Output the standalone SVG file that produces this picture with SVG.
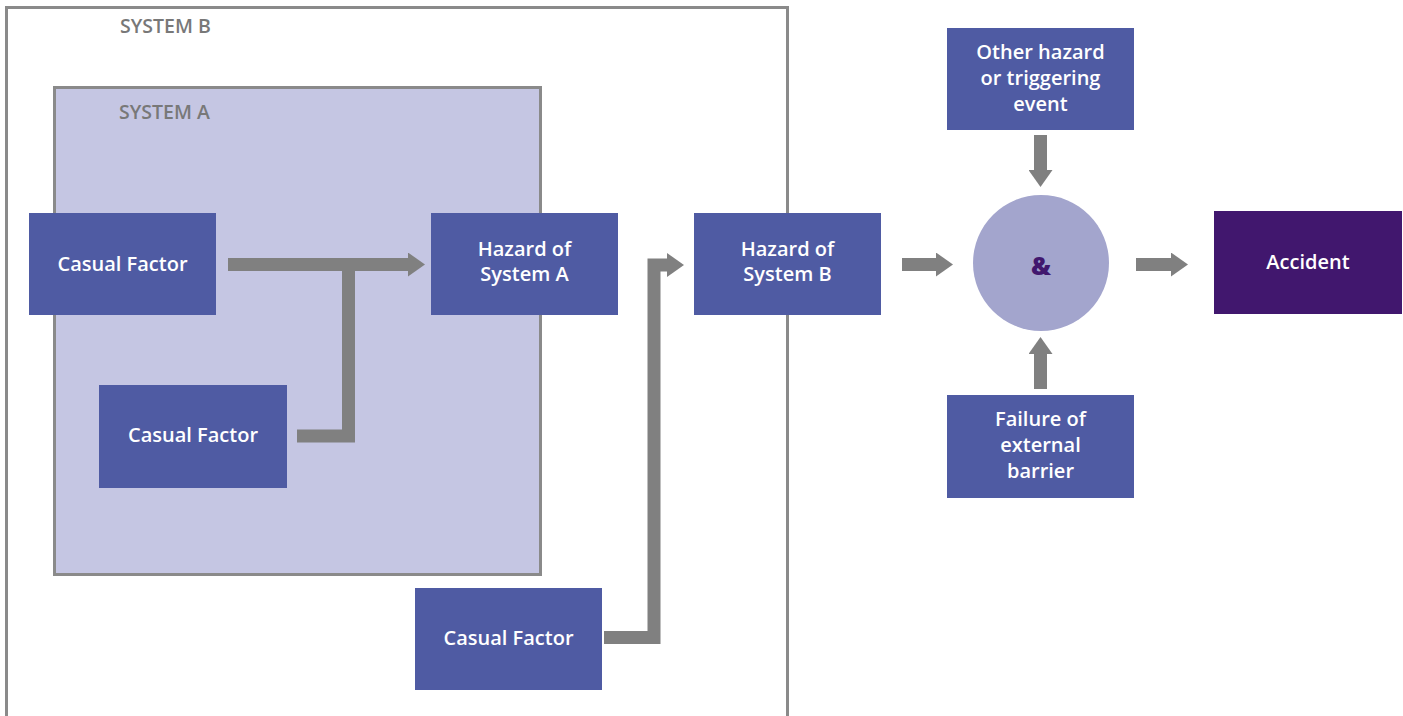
<svg xmlns="http://www.w3.org/2000/svg" width="1403" height="716" viewBox="0 0 1403 716">
<style>
.sys{fill:none;stroke:#8a8a8a;stroke-width:3}
.sysA{fill:#c5c6e3;stroke:#8a8a8a;stroke-width:3}
.syslbl{font-family:"Open Sans","Liberation Sans",sans-serif;font-weight:600;font-size:19.5px;fill:#787878}
.box{fill:#4f5ba3}
.acc{fill:#41176e}
.lbl{font-family:"Open Sans","Liberation Sans",sans-serif;font-weight:600;font-size:20px;fill:#ffffff;text-anchor:middle;dominant-baseline:central}
.conn{fill:none;stroke:#808080;stroke-width:13;stroke-linejoin:miter}
</style>
<defs>
<marker id="ah" viewBox="0 0 17 24" refX="0" refY="12" markerWidth="17" markerHeight="24" markerUnits="userSpaceOnUse" orient="auto">
<path d="M0,0 L17,12 L0,24 Z" fill="#808080"/>
</marker>
</defs>
<g id="systemB">
<rect class="sys" x="6.5" y="7.5" width="781" height="712"/>
<text class="syslbl" x="120" y="33">SYSTEM B</text>
</g>
<g id="systemA">
<rect class="sysA" x="54.5" y="87.5" width="486" height="487"/>
<text class="syslbl" x="119" y="119">SYSTEM A</text>
</g>
<g id="connectors">
<path class="conn" d="M228,264.5 H408" marker-end="url(#ah)"/>
<path class="conn" d="M297,436 H348.5 V264.5"/>
<path class="conn" d="M604,637.5 H654 V265 H667" marker-end="url(#ah)"/>
<path class="conn" d="M902,264.5 H936" marker-end="url(#ah)"/>
<path class="conn" d="M1136,264.5 H1171" marker-end="url(#ah)"/>
<path class="conn" d="M1040.5,135 V170" marker-end="url(#ah)"/>
<path class="conn" d="M1040.5,389 V354" marker-end="url(#ah)"/>
</g>
<g id="cf1">
<rect class="box" x="29" y="213" width="187" height="102"/>
<text class="lbl" x="122.5" y="263">Casual Factor</text>
</g>
<g id="cf2">
<rect class="box" x="99" y="385" width="188" height="103"/>
<text class="lbl" x="193" y="434">Casual Factor</text>
</g>
<g id="hazardA">
<rect class="box" x="431" y="213" width="187" height="102"/>
<text class="lbl" x="524.5" y="248">Hazard of</text>
<text class="lbl" x="524.5" y="273">System A</text>
</g>
<g id="hazardB">
<rect class="box" x="694" y="213" width="187" height="102"/>
<text class="lbl" x="787.5" y="248">Hazard of</text>
<text class="lbl" x="787.5" y="273">System B</text>
</g>
<g id="cf3">
<rect class="box" x="415" y="588" width="187" height="102"/>
<text class="lbl" x="508.5" y="637">Casual Factor</text>
</g>
<g id="otherHazard">
<rect class="box" x="947" y="28" width="187" height="102"/>
<text class="lbl" x="1040.5" y="51">Other hazard</text>
<text class="lbl" x="1040.5" y="77">or triggering</text>
<text class="lbl" x="1040.5" y="103">event</text>
</g>
<g id="failure">
<rect class="box" x="947" y="395" width="187" height="103"/>
<text class="lbl" x="1040.5" y="418">Failure of</text>
<text class="lbl" x="1040.5" y="444">external</text>
<text class="lbl" x="1040.5" y="470">barrier</text>
</g>
<g id="andGate">
<circle cx="1041" cy="263" r="68" fill="#a3a5cd"/>
<text x="1041" y="265" font-family="'Open Sans','Liberation Sans',sans-serif" font-weight="800" font-size="25" fill="#41176e" text-anchor="middle" dominant-baseline="central">&amp;</text>
</g>
<g id="accident">
<rect class="acc" x="1214" y="211" width="188" height="103"/>
<text class="lbl" x="1308" y="261">Accident</text>
</g>
</svg>
